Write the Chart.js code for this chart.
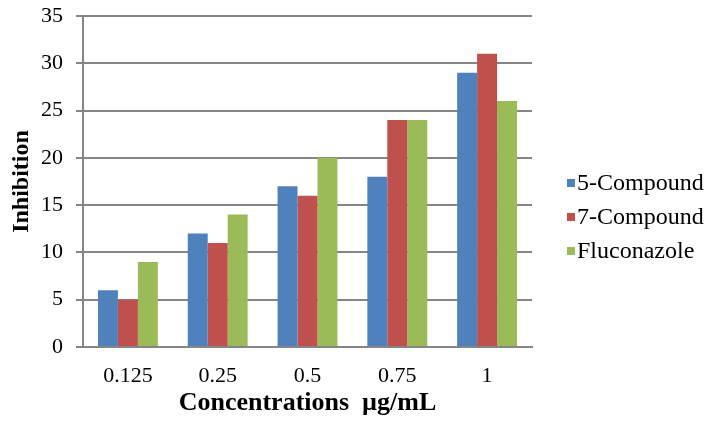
<!DOCTYPE html>
<html lang="en">
<head>
  <meta charset="UTF-8">
  <title>Inhibition by concentration</title>
  <script src="https://cdn.jsdelivr.net/npm/chart.js"></script>
  <style>
    body { margin: 0; padding: 0; background: #fff; }
    #wrap { width: 710px; height: 433px; }
  </style>
</head>
<body>
  <div id="wrap"><canvas id="inhibitionChart" width="710" height="433"></canvas></div>

  <script>
    // values
    const concentrations = ['0.125', '0.25', '0.5', '0.75', '1'];
    const compound5 = [6, 12, 17, 18, 29];
    const compound7 = [5, 11, 16, 24, 31];
    const fluconazole = [9, 14, 20, 24, 26];
    const seriesNames = ['5-Compound', '7-Compound', 'Fluconazole'];
    const yTicks = [0, 5, 10, 15, 20, 25, 30, 35];

    const serif = '"Liberation Serif", "Times New Roman", serif';
    const gridGray = '#868686';
    const colors = ['#4f81bd', '#c0504d', '#9bbb59'];

    // simple legend on the right, drawn from the datasets
    const sideLegend = {
      id: 'sideLegend',
      afterDraw(chart) {
        const ctx = chart.ctx;
        ctx.save();
        ctx.font = '24px ' + serif;
        ctx.textBaseline = 'middle';
        chart.data.datasets.forEach((ds, i) => {
          const y = 184 + i * 34;
          ctx.fillStyle = ds.backgroundColor;
          ctx.fillRect(567, y - 5, 8, 8);
          ctx.fillStyle = '#000';
          ctx.fillText(ds.label, 577, y);
        });
        ctx.restore();
      }
    };

    function createChart() {
      const ctx = document.getElementById('inhibitionChart').getContext('2d');
      new Chart(ctx, {
        type: 'bar',
        data: {
          labels: concentrations,
          datasets: [
            { label: seriesNames[0], data: compound5, backgroundColor: colors[0] },
            { label: seriesNames[1], data: compound7, backgroundColor: colors[1] },
            { label: seriesNames[2], data: fluconazole, backgroundColor: colors[2] }
          ]
        },
        options: {
          responsive: false,
          animation: false,
          layout: { padding: { top: 16, right: 178, bottom: 0, left: 0 } },
          datasets: {
            bar: { categoryPercentage: 0.667, barPercentage: 1.0 }
          },
          plugins: {
            legend: { display: false },
            tooltip: { enabled: false }
          },
          scales: {
            x: {
              grid: { display: false },
              border: { display: true, color: gridGray, width: 2 },
              ticks: { color: '#000', font: { family: serif, size: 22 }, padding: 8 },
              title: {
                display: true,
                text: 'Concentrations  µg/mL',
                color: '#000',
                font: { family: serif, size: 26, weight: 'bold' },
                padding: { top: 0, bottom: 14 }
              },
              afterFit(scale) { scale.height = 86; }
            },
            y: {
              min: 0,
              max: 35,
              afterBuildTicks(scale) { scale.ticks = yTicks.map(v => ({ value: v })); },
              grid: { color: gridGray, lineWidth: 2, tickLength: 7 },
              border: { display: true, color: gridGray, width: 2 },
              ticks: { color: '#000', font: { family: serif, size: 22 }, padding: 13 },
              title: {
                display: true,
                text: 'Inhibition',
                color: '#000',
                font: { family: serif, size: 24, weight: 'bold' },
                padding: { top: 7, bottom: 0 }
              },
              afterFit(scale) {
                scale.width = 83;
                scale.paddingTop = 0;
                scale.paddingBottom = 0;
              }
            }
          }
        },
        plugins: [sideLegend]
      });
    }

    document.addEventListener('DOMContentLoaded', createChart);
  </script>
</body>
</html>
